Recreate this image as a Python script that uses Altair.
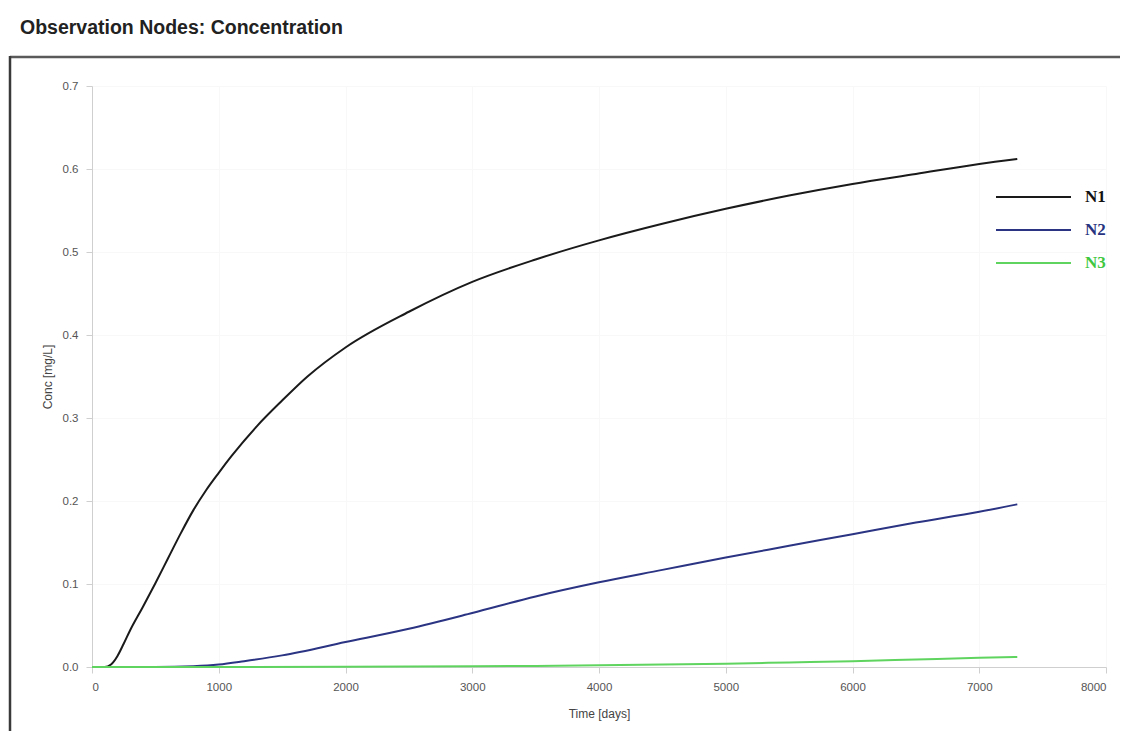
import altair as alt
import pandas as pd

series_names = ["N1", "N2", "N3"]

t_n1 = [0, 100, 150, 200, 250, 300, 400, 500, 600, 700, 800, 900, 1000, 1100, 1300, 1500,
        1700, 2000, 2500, 3000, 3500, 4000, 4500, 5000, 5500, 6000, 6500, 7000, 7300]
c_n1 = [0.0, 0.0, 0.003, 0.013, 0.028, 0.044, 0.072, 0.101, 0.131, 0.161, 0.189, 0.213, 0.234,
        0.254, 0.290, 0.321, 0.350, 0.385, 0.428, 0.464, 0.491, 0.514, 0.534, 0.552, 0.568,
        0.582, 0.594, 0.606, 0.612]

t_n2 = [0, 500, 800, 1000, 1200, 1500, 2000, 2500, 3000, 3500, 4000, 4500, 5000, 5500, 6000,
        6500, 7000, 7300]
c_n2 = [0.0, 0.0, 0.001, 0.003, 0.007, 0.014, 0.030, 0.046, 0.065, 0.085, 0.102, 0.117, 0.132,
        0.146, 0.160, 0.174, 0.187, 0.196]

t_n3 = [0, 1000, 2000, 3000, 3500, 4000, 4500, 5000, 5500, 6000, 6500, 7000, 7300]
c_n3 = [0.0, 0.0, 0.0002, 0.0008, 0.0013, 0.002, 0.003, 0.004, 0.0055, 0.007, 0.009, 0.011, 0.012]

x_ticks = [0, 1000, 2000, 3000, 4000, 5000, 6000, 7000, 8000]
y_ticks = [0.0, 0.1, 0.2, 0.3, 0.4, 0.5, 0.6, 0.7]

line_colors = ["#1a1a1a", "#2b3483", "#5fd45f"]
label_colors = ["#111111", "#27337f", "#3fc83f"]

rows = []
for name, ts, cs in zip(series_names, [t_n1, t_n2, t_n3], [c_n1, c_n2, c_n3]):
    for t, c in zip(ts, cs):
        rows.append({"Node": name, "Time": t, "Conc": c})
df = pd.DataFrame(rows)

label_expr = ("datum.label == 'N1' ? '%s' : (datum.label == 'N2' ? '%s' : '%s')"
              % tuple(label_colors))

lines = alt.Chart(df).mark_line(strokeWidth=2, interpolate="monotone").encode(
    x=alt.X("Time:Q", scale=alt.Scale(domain=[0, 8000], nice=False),
            axis=alt.Axis(title="Time [days]", values=x_ticks, format="d")),
    y=alt.Y("Conc:Q", scale=alt.Scale(domain=[0, 0.7], nice=False),
            axis=alt.Axis(title="Conc [mg/L]", values=y_ticks, format=".1f")),
    color=alt.Color("Node:N",
                    scale=alt.Scale(domain=series_names, range=line_colors),
                    legend=alt.Legend(
                        title=None, orient="none", legendX=903, legendY=101,
                        symbolType="stroke", symbolSize=5625, symbolStrokeWidth=2,
                        labelFont="Liberation Serif", labelFontWeight="bold",
                        labelFontSize=17, labelOffset=13, rowPadding=13,
                        clipHeight=20,
                        labelColor=alt.ExprRef(label_expr))),
    order=alt.Order("Node:N", sort="descending"),
)

frame_top = alt.Chart(alt.Data(values=[{}])).mark_rule(
    color="#5a5a5a", strokeWidth=2.5).encode(
    x=alt.value(-82), x2=alt.value(1100), y=alt.value(-29))
frame_left = alt.Chart(alt.Data(values=[{}])).mark_rule(
    color="#3a3a3a", strokeWidth=2.5).encode(
    x=alt.value(-82), y=alt.value(-30), y2=alt.value(800))

chart = alt.layer(frame_top, frame_left, lines).properties(
    width=1014, height=581,
    background="white",
    autosize=alt.AutoSizeParams(type="none"),
    padding={"left": 84, "top": 78, "right": 14, "bottom": 64},
    title=alt.TitleParams("Observation Nodes: Concentration", anchor="start",
                          frame="group",
                          font="Liberation Sans", fontSize=19.5, fontWeight="bold",
                          color="#222222", dx=-72, offset=16),
).configure_view(stroke=None).configure_axis(
    labelFont="Liberation Sans", labelFontSize=11.5, labelColor="#555555",
    titleFont="Liberation Sans", titleFontSize=12, titleFontWeight="normal",
    titleColor="#444444", domainColor="#cfcfcf", tickColor="#cfcfcf", tickSize=6,
    gridColor="#f8f8f8", labelPadding=8,
).configure_axisY(titlePadding=8).configure_axisX(titlePadding=16)

chart.save("out.html", embed_options={"renderer": "svg", "actions": False})
